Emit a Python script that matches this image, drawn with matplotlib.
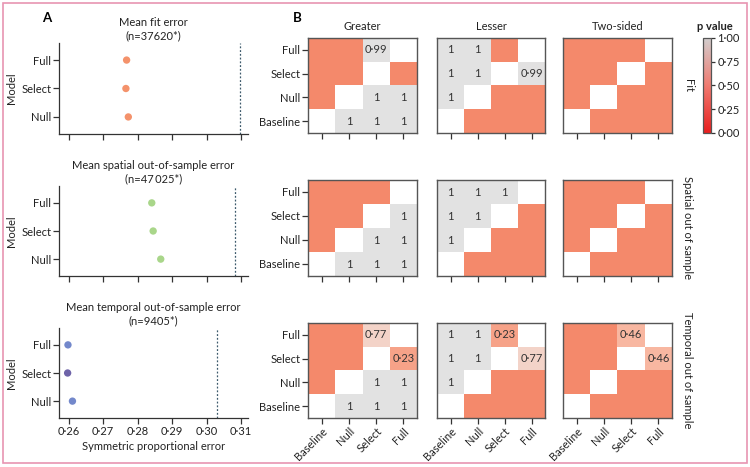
import numpy as np
import matplotlib
matplotlib.use("Agg")
import matplotlib.pyplot as plt
from matplotlib.colors import LinearSegmentedColormap, Normalize
from matplotlib.cm import ScalarMappable
from matplotlib.patches import Rectangle

plt.rcParams['font.family'] = ['Lato', 'DejaVu Sans']
plt.rcParams['font.size'] = 8

W, H = 750, 467
FS = 8

# ---------------- Data ----------------
models = ["Null", "Select", "Full"]  # bottom to top
error_titles = ["Mean fit error\n(n=37620*)",
                "Mean spatial out-of-sample error\n(n=47\u2009025*)",
                "Mean temporal out-of-sample error\n(n=9405*)"]
fit_err = [0.2773, 0.2766, 0.2768]
spatial_err = [0.2867, 0.2845, 0.2841]
temporal_err = [0.2611, 0.2597, 0.2598]
baseline_err = [0.3096, 0.3082, 0.3031]
dot_colors = [["#F4926B", "#F4926B", "#F4926B"],
              ["#A9D68A", "#A9D68A", "#A9D68A"],
              ["#7388CB", "#6E63A8", "#7388CB"]]
x_ticks = [0.26, 0.27, 0.28, 0.29, 0.30, 0.31]

hm_rows = ["Full", "Select", "Null", "Baseline"]  # top to bottom
hm_cols = ["Baseline", "Null", "Select", "Full"]
tests = ["Greater", "Lesser", "Two-sided"]
row_names = ["Fit", "Spatial out of sample", "Temporal out of sample"]
nan = np.nan
greater_fit = [[0, 0, 0.99, nan], [0, 0, nan, 0], [0, nan, 1, 1], [nan, 1, 1, 1]]
lesser_fit = [[1, 1, 0, nan], [1, 1, nan, 0.99], [1, nan, 0, 0], [nan, 0, 0, 0]]
two_fit = [[0, 0, 0, nan], [0, 0, nan, 0], [0, nan, 0, 0], [nan, 0, 0, 0]]
greater_spatial = [[0, 0, 0, nan], [0, 0, nan, 1], [0, nan, 1, 1], [nan, 1, 1, 1]]
lesser_spatial = [[1, 1, 1, nan], [1, 1, nan, 0], [1, nan, 0, 0], [nan, 0, 0, 0]]
two_spatial = [[0, 0, 0, nan], [0, 0, nan, 0], [0, nan, 0, 0], [nan, 0, 0, 0]]
greater_temporal = [[0, 0, 0.77, nan], [0, 0, nan, 0.23], [0, nan, 1, 1], [nan, 1, 1, 1]]
lesser_temporal = [[1, 1, 0.23, nan], [1, 1, nan, 0.77], [1, nan, 0, 0], [nan, 0, 0, 0]]
two_temporal = [[0, 0, 0.46, nan], [0, 0, nan, 0.46], [0, nan, 0, 0], [nan, 0, 0, 0]]
cb_ticks = [0.0, 0.25, 0.5, 0.75, 1.0]

# ---------------- Figure ----------------
fig = plt.figure(figsize=(W / 100, H / 100), dpi=100)

def px_axes(x0, y0, x1, y1):
    return fig.add_axes([x0 / W, 1 - y1 / H, (x1 - x0) / W, (y1 - y0) / H])

def fmt(v):
    if v == 1:
        return "1"
    return f"{v:.2f}".replace(".", "\u00b7")

# border
fig.add_artist(Rectangle((3 / W, 1 - 463 / H), 744 / W, 460 / H, transform=fig.transFigure,
                         fill=False, edgecolor="#E895B2", linewidth=1.2))

spine_col = "#333333"
text_col = "#222222"

# ---------------- Panel A ----------------
a_rows = [(43, 134), (186, 276), (328, 418)]
series = [fit_err, spatial_err, temporal_err]
for i, (y0, y1) in enumerate(a_rows):
    ax = px_axes(59, y0, 248, y1)
    ypos = np.arange(len(models))
    ax.scatter(series[i], ypos, s=28, c=dot_colors[i], edgecolors="none", zorder=3)
    ax.axvline(baseline_err[i], color="#3D5A6C", linestyle=(0, (1.5, 1.5)), linewidth=0.9)
    ax.set_xlim(0.2572, 0.3120)
    ax.set_ylim(-0.6, 2.6)
    ax.set_yticks(ypos)
    ax.set_yticklabels(models, fontsize=FS, color=text_col)
    ax.set_xticks(x_ticks)
    if i == 2:
        ax.set_xticklabels([fmt(t) for t in x_ticks], fontsize=FS, color=text_col)
        ax.set_xlabel("Symmetric proportional error", fontsize=FS, color=text_col, labelpad=3)
    else:
        ax.set_xticklabels([])
    ax.set_ylabel("Model", fontsize=FS, color=text_col, labelpad=3)
    ax.set_title(error_titles[i], fontsize=FS, color=text_col, pad=3, linespacing=1.2)
    for s in ["top", "right"]:
        ax.spines[s].set_visible(False)
    for s in ["left", "bottom"]:
        ax.spines[s].set_color(spine_col)
        ax.spines[s].set_linewidth(0.9)
    ax.tick_params(length=4, width=0.9, color=spine_col, pad=1.5)

fig.text(47 / W, 1 - 18 / H, "A", fontsize=9.5, fontweight="bold", ha="center", va="center")
fig.text(297 / W, 1 - 18 / H, "B", fontsize=9.5, fontweight="bold", ha="center", va="center")

# ---------------- Panel B ----------------
cell_cmap = LinearSegmentedColormap.from_list(
    "cells", [(0.0, "#F4896B"), (0.23, "#F7A389"), (0.46, "#F9B8A2"),
              (0.77, "#F4D3C8"), (1.0, "#E2E2E2")])
cell_cmap.set_bad("white")
bar_cmap = LinearSegmentedColormap.from_list(
    "bar", [(0.0, "#E81E1E"), (0.5, "#F07A70"), (1.0, "#D2CECE")])
norm = Normalize(0, 1)

mats = [[greater_fit, lesser_fit, two_fit],
        [greater_spatial, lesser_spatial, two_spatial],
        [greater_temporal, lesser_temporal, two_temporal]]
b_cols = [(308, 417), (437, 545), (563, 672)]
b_rows = [(38, 133), (180, 276), (323, 418)]
for r, (y0, y1) in enumerate(b_rows):
    for c, (x0, x1) in enumerate(b_cols):
        ax = px_axes(x0, y0, x1, y1)
        m = np.array(mats[r][c], dtype=float)
        ax.imshow(np.ma.masked_invalid(m), cmap=cell_cmap, norm=norm, aspect="auto",
                  interpolation="nearest")
        for ri in range(m.shape[0]):
            for ci in range(m.shape[1]):
                v = m[ri, ci]
                if not np.isnan(v) and v > 0.05:
                    ax.text(ci, ri, fmt(v), ha="center", va="center", fontsize=FS,
                            color="#333333")
        ax.set_xticks(range(len(hm_cols)))
        if r == 2:
            ax.set_xticklabels(hm_cols, rotation=45, ha="right", rotation_mode="anchor",
                               fontsize=FS, color=text_col)
        else:
            ax.set_xticklabels([])
        if c == 0:
            ax.set_yticks(range(len(hm_rows)))
            ax.set_yticklabels(hm_rows, fontsize=FS, color=text_col)
        else:
            ax.set_yticks([])
        if r == 0:
            ax.set_title(tests[c], fontsize=FS, color=text_col, pad=6)
        for s in ax.spines.values():
            s.set_color("#555555")
            s.set_linewidth(1.0)
        ax.tick_params(length=4, width=0.9, color=spine_col, pad=1.5)
    fig.text(688 / W, 1 - ((y0 + y1) / 2) / H, row_names[r], rotation=270,
             ha="center", va="center", fontsize=FS, color=text_col)

cax = px_axes(703, 38, 711, 133)
cb = fig.colorbar(ScalarMappable(norm=norm, cmap=bar_cmap), cax=cax, ticks=cb_ticks)
cb.ax.set_yticklabels([fmt(t) if t != 1 else "1\u00b700" for t in cb_ticks], fontsize=FS,
                      color=text_col)
cb.outline.set_edgecolor("#555555")
cb.outline.set_linewidth(0.9)
cb.ax.tick_params(length=3, width=0.9, pad=1.5, color=spine_col)
fig.text(715 / W, 1 - 26 / H, "p value", fontsize=FS, fontweight="bold", ha="center",
         va="center", color=text_col)

fig.savefig("out.png", dpi=100)
